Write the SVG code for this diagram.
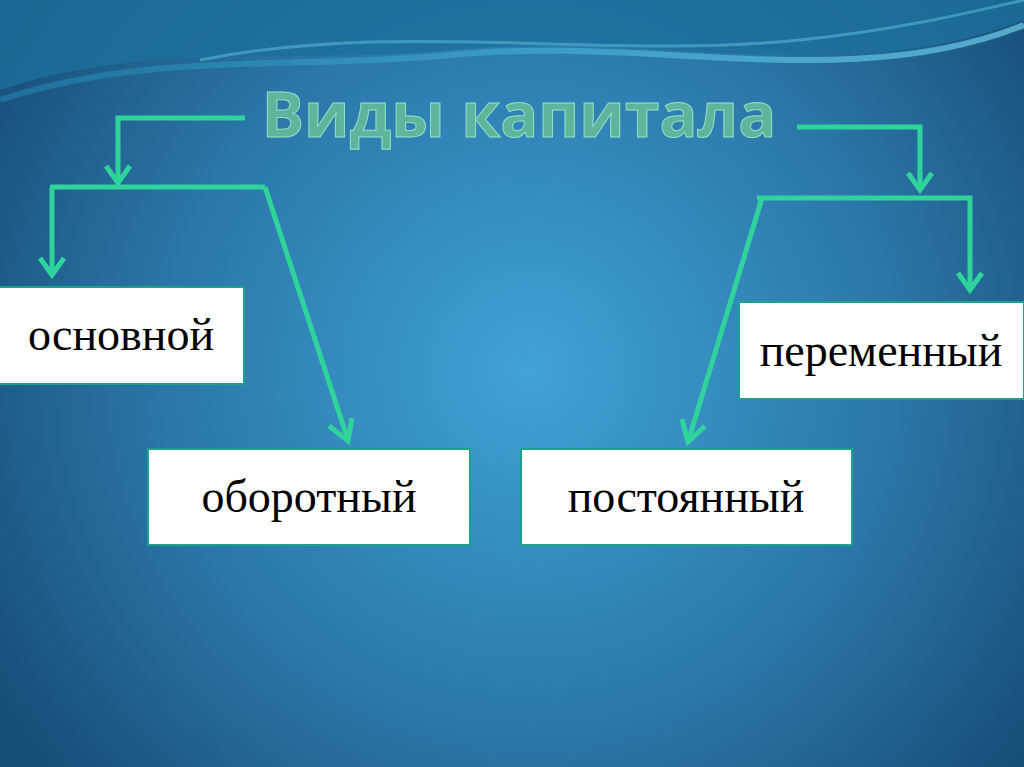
<svg xmlns="http://www.w3.org/2000/svg" width="1024" height="767" viewBox="0 0 1024 767">
<defs>
<radialGradient id="bg" cx="530" cy="370" r="620" gradientUnits="userSpaceOnUse">
<stop offset="0" stop-color="#40a2d6"/><stop offset="0.6" stop-color="#2a76a8"/><stop offset="1" stop-color="#184f78"/>
</radialGradient>
<linearGradient id="wave" x1="0" y1="0" x2="1" y2="0">
<stop offset="0" stop-color="#1f7aa8"/><stop offset="0.5" stop-color="#3fa8d0"/><stop offset="1" stop-color="#6fd0e8"/>
</linearGradient>
<style>
.c{fill:none;stroke:#2fd39b;stroke-width:5}
.box{fill:#fff;stroke:#1fa08a;stroke-width:2}
.t{font-family:"Liberation Serif",serif;font-size:46px;fill:#000;text-anchor:middle}
</style>
</defs>
<rect width="1024" height="767" fill="url(#bg)"/>
<path d="M0,0 H1024 V20 C850,90 650,30 450,50 C300,65 150,40 0,90 Z" fill="#1d6f9e" opacity="0.8"/>
<path d="M0,100 C150,50 300,70 450,55 C650,35 850,95 1024,25" fill="none" stroke="url(#wave)" stroke-width="6" opacity="0.7"/>
<path d="M200,60 C400,20 600,60 800,40 C900,30 980,10 1024,0" fill="none" stroke="#5fc4e0" stroke-width="3" opacity="0.5"/>
<text x="519" y="137" font-family="'Open Sans',sans-serif" font-weight="bold" font-size="63" fill="#5fb59c" stroke="#8fe0c8" stroke-width="1" text-anchor="middle">Виды капитала</text>
<g id="connectors">
<path class="c" d="M245,118 H118 V183"/>
<path d="M106,166 L118,183 L130,166" class="c"/>
<path class="c" d="M50,187 H265"/>
<path class="c" d="M52,187 V275"/>
<path d="M40,258 L52,275 L64,258" class="c"/>
<path class="c" d="M265,187 L348,440"/>
<path d="M329,426 L348,441 L352,418" class="c"/>
<path class="c" d="M797,127 H920 V190"/>
<path d="M908,173 L920,190 L932,173" class="c"/>
<path class="c" d="M757,198 H970 V290"/>
<path d="M958,273 L970,290 L982,273" class="c"/>
<path class="c" d="M762,198 L688,442"/>
<path d="M682,419 L688,442 L705,426" class="c"/>
</g>
<g id="osnovnoy"><rect class="box" x="-2" y="287" width="246" height="97"/><text class="t" x="121" y="350">основной</text></g>
<g id="oborotny"><rect class="box" x="148" y="449" width="322" height="96"/><text class="t" x="309" y="512">оборотный</text></g>
<g id="postoyanny"><rect class="box" x="521" y="449" width="331" height="96"/><text class="t" x="686" y="512">постоянный</text></g>
<g id="peremenny"><rect class="box" x="739" y="302" width="285" height="97"/><text class="t" x="881" y="366">переменный</text></g>
</svg>
